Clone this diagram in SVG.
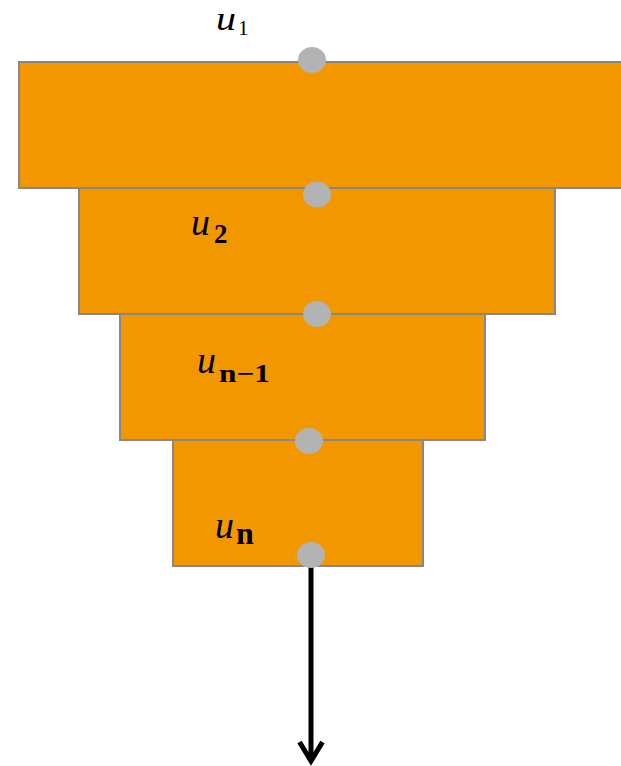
<svg xmlns="http://www.w3.org/2000/svg" width="621" height="766" viewBox="0 0 621 766">
<style>
.blk{fill:#F39700;stroke:#878787;stroke-width:2}
.dot{fill:#B3B3B3}
.u{font-family:"Liberation Serif",serif;font-style:italic;font-size:38px;fill:#000}
.s{font-family:"Liberation Serif",serif;fill:#000}
.b{font-weight:bold}
</style>
<g id="layer1"><rect class="blk" x="19" y="62" width="606" height="126"/></g>
<g id="layer2"><rect class="blk" x="79" y="188" width="476" height="126"/></g>
<g id="layer3"><rect class="blk" x="120" y="314" width="365" height="126"/></g>
<g id="layer4"><rect class="blk" x="173" y="440" width="250" height="126"/></g>
<g id="connectors">
<line x1="311" y1="566" x2="311" y2="757" stroke="#000" stroke-width="5"/>
<path d="M299.5,742 L311,761 L322.5,742" fill="none" stroke="#000" stroke-width="5"/>
</g>
<g id="dots">
<ellipse class="dot" cx="312" cy="60" rx="14" ry="13"/>
<ellipse class="dot" cx="317" cy="194.5" rx="14" ry="13"/>
<ellipse class="dot" cx="317" cy="314" rx="14" ry="13"/>
<ellipse class="dot" cx="309" cy="441" rx="14" ry="13"/>
<ellipse class="dot" cx="311" cy="555" rx="14" ry="13"/>
</g>
<g id="labels">
<text class="u" x="216" y="30" textLength="20" lengthAdjust="spacingAndGlyphs" style="font-size:33px">u</text><text class="s" x="238" y="35" font-size="21">1</text>
<text class="u" x="191" y="235">u</text><text class="s b" x="214" y="243" font-size="27">2</text>
<text class="u" x="197" y="373">u</text><text class="s b" x="219" y="382" font-size="25" textLength="51" lengthAdjust="spacingAndGlyphs">n−1</text>
<text class="u" x="215" y="538">u</text><text class="s b" x="236" y="544" font-size="32">n</text>
</g>
</svg>
